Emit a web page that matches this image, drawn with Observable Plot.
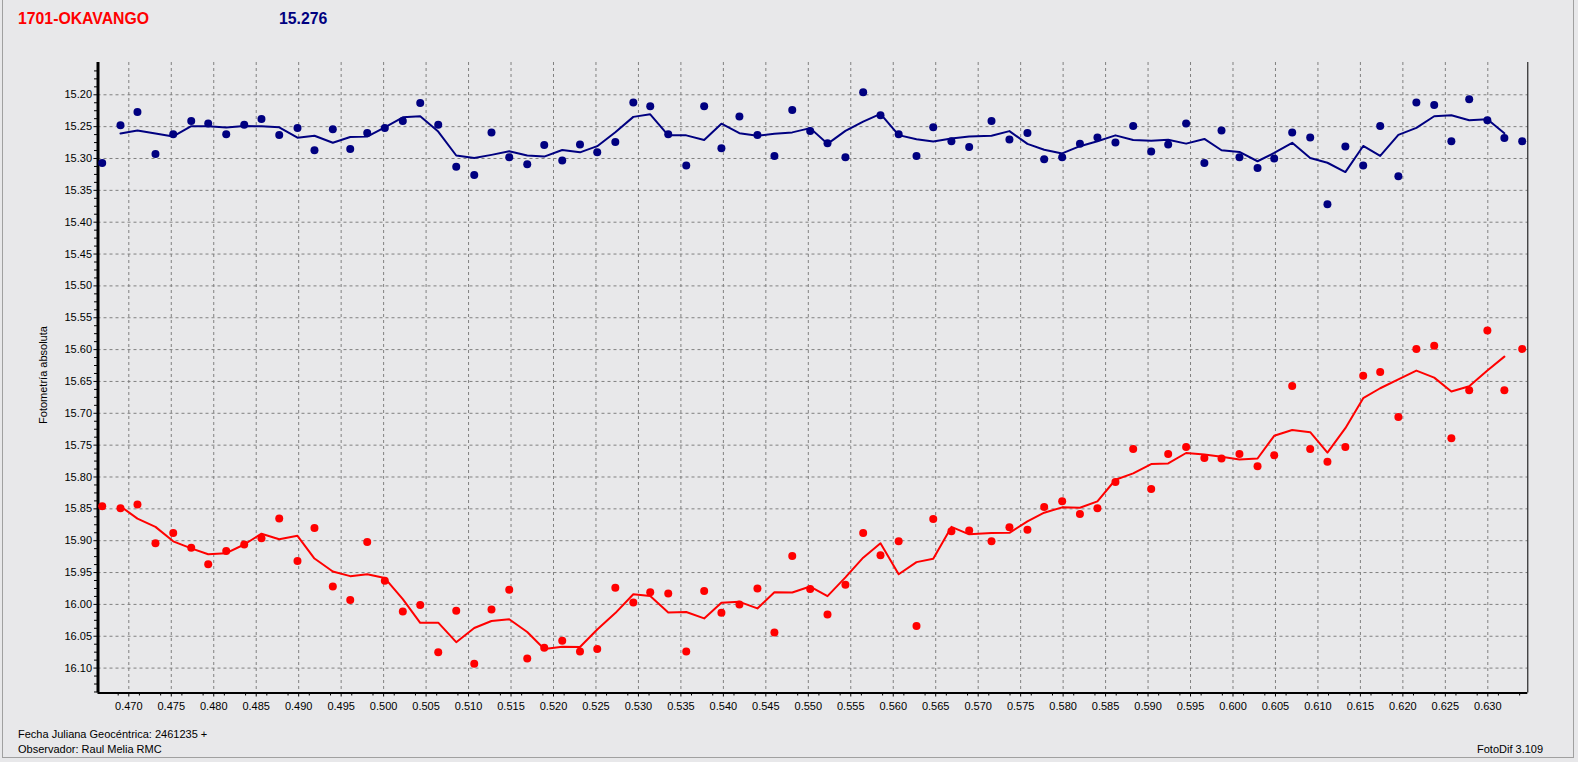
<!DOCTYPE html>
<html><head><meta charset="utf-8">
<script src="https://cdn.jsdelivr.net/npm/d3@7"></script>
<script src="https://cdn.jsdelivr.net/npm/@observablehq/plot@0.6"></script>
<style>
html,body{margin:0;padding:0;background:#e8e8ea;}
body{width:1578px;height:762px;position:relative;overflow:hidden;font-family:"Liberation Sans",Arial,sans-serif;}
#chart{position:absolute;left:0;top:0;}
.t{position:absolute;white-space:nowrap;line-height:1;}
#border{position:absolute;left:2px;top:-1px;width:1572px;height:759px;border:1px solid #a0a0a0;box-sizing:border-box;}
</style></head><body>
<div id="border"></div>
<div id="chart"></div>
<div class="t" style="left:18px;top:11px;font-weight:bold;font-size:15.8px;color:#ff0000">1701-OKAVANGO</div>
<div class="t" style="left:279px;top:11px;font-weight:bold;font-size:15.8px;color:#000080">15.276</div>
<div class="t" style="left:43px;top:375px;font-size:11px;color:#000;transform:translate(0,-50%) rotate(-90deg);transform-origin:0 50%;"><span style="display:inline-block;transform:translateX(-50%)">Fotometría absoluta</span></div>
<div class="t" style="left:18px;top:729px;font-size:11px;color:#000">Fecha Juliana Geocéntrica: 2461235 +</div>
<div class="t" style="left:18px;top:744px;font-size:11px;color:#000">Observador: Raul Melia RMC</div>
<div class="t" style="left:1477px;top:744px;font-size:11px;color:#000">FotoDif 3.109</div>
<script>
// Time (fraction of JD 2461235)
const times = [0.46687,0.46902,0.47102,0.47314,0.47523,0.47735,0.47935,0.48147,0.48359,0.48562,
0.48771,0.48986,0.49186,0.49402,0.49607,0.49807,0.50014,0.50226,0.50431,0.50643,
0.50855,0.51067,0.51270,0.51479,0.51691,0.51891,0.52103,0.52312,0.52515,0.52728,
0.52940,0.53139,0.53351,0.53563,0.53774,0.53977,0.54189,0.54401,0.54601,0.54811,
0.55022,0.55226,0.55437,0.55646,0.55850,0.56064,0.56274,0.56471,0.56685,0.56894,
0.57157,0.57368,0.57580,0.57777,0.57989,0.58198,0.58404,0.58616,0.58825,0.59037,
0.59237,0.59448,0.59663,0.59865,0.60076,0.60289,0.60485,0.60697,0.60909,0.61112,
0.61323,0.61533,0.61733,0.61947,0.62159,0.62369,0.62571,0.62781,0.62995,0.63195,0.63405];
// Comparison star (blue)
const compMag = [15.307,15.248,15.227,15.293,15.262,15.241,15.245,15.262,15.247,15.238,
15.263,15.252,15.287,15.254,15.285,15.260,15.252,15.241,15.213,15.247,
15.313,15.326,15.259,15.298,15.309,15.279,15.303,15.278,15.290,15.274,
15.212,15.218,15.262,15.311,15.218,15.284,15.234,15.263,15.296,15.224,
15.257,15.276,15.298,15.196,15.232,15.262,15.296,15.251,15.273,15.282,
15.241,15.270,15.260,15.301,15.298,15.277,15.267,15.275,15.249,15.289,
15.278,15.245,15.307,15.256,15.298,15.315,15.300,15.259,15.267,15.372,
15.281,15.311,15.249,15.328,15.212,15.216,15.273,15.207,15.240,15.268,15.273];
// Target 1701-Okavango (red)
const varMag = [15.846,15.849,15.843,15.904,15.888,15.911,15.937,15.916,15.906,15.896,
15.865,15.932,15.880,15.972,15.993,15.902,15.963,16.011,16.001,16.075,
16.010,16.093,16.008,15.977,16.085,16.068,16.057,16.074,16.070,15.974,
15.997,15.981,15.983,16.074,15.979,16.013,16.000,15.975,16.044,15.924,
15.976,16.016,15.969,15.888,15.923,15.901,16.034,15.866,15.885,15.884,
15.901,15.879,15.883,15.847,15.838,15.858,15.849,15.808,15.756,15.819,
15.764,15.753,15.770,15.771,15.764,15.783,15.766,15.657,15.756,15.776,
15.753,15.641,15.635,15.706,15.599,15.594,15.739,15.664,15.570,15.664,15.599];
const xTicks = [0.470,0.475,0.480,0.485,0.490,0.495,0.500,0.505,0.510,0.515,0.520,0.525,0.530,0.535,0.540,0.545,0.550,0.555,0.560,0.565,0.570,0.575,0.580,0.585,0.590,0.595,0.600,0.605,0.610,0.615,0.620,0.625,0.630];
const yTicks = [15.20,15.25,15.30,15.35,15.40,15.45,15.50,15.55,15.60,15.65,15.70,15.75,15.80,15.85,15.90,15.95,16.00,16.05,16.10];
const xDomain = [0.466374, 0.634709];
const yDomain = [15.1493, 16.1391];

// minor ticks: 3 between each pair of major ticks (axis decoration, not data)
const xMinorTicks = d3.range(-4, 136).map(i => 0.465 + i * 0.00125)
  .filter(v => v > xDomain[0] && v < xDomain[1] && Math.round(v * 8000) % 4 !== 0);
const yMinorTicks = d3.range(-8, 80).map(i => 15.15 + i * 0.0125)
  .filter(v => v > yDomain[0] && v < yDomain[1] && Math.round(v * 80) % 4 !== 0);
const xMinorLen = 0.0047;    // y units (~3px below the x axis line)
const yMinorLen = 0.00041;   // x units (~3.5px left of the y axis line)

const data = times.map((t, i) => ({t, comp: compMag[i], vari: varMag[i]}));
const mean3 = v => (v.length < 3 || v.some(x => x == null || isNaN(x))) ? NaN : d3.mean(v);

const chart = Plot.plot({
  width: 1578, height: 762,
  marginLeft: 97.5, marginRight: 50.7, marginTop: 62, marginBottom: 69.5,
  style: {background: "transparent", fontFamily: "'Liberation Sans', Arial, sans-serif", fontSize: "11px", color: "#000", overflow: "visible"},
  x: {domain: xDomain, ticks: xTicks, tickFormat: d3.format(".3f"), label: null, tickSize: 4, tickPadding: 5},
  y: {domain: yDomain, reverse: true, ticks: yTicks, tickFormat: d3.format(".2f"), label: null, tickSize: 4, tickPadding: 2},
  marks: [
    Plot.ruleX(xTicks, {stroke: "#808080", strokeOpacity: 1, strokeDasharray: "3,3"}),
    Plot.ruleY(yTicks, {stroke: "#808080", strokeOpacity: 1, strokeDasharray: "3,3"}),
    Plot.ruleX(xMinorTicks, {y1: yDomain[1], y2: yDomain[1] + xMinorLen, stroke: "#000", strokeOpacity: 1}),
    Plot.ruleY(yMinorTicks, {x1: xDomain[0], x2: xDomain[0] - yMinorLen, stroke: "#000", strokeOpacity: 1}),
    Plot.ruleX([xDomain[1]], {stroke: "#000", strokeWidth: 1}),
    Plot.ruleX([xDomain[0]], {stroke: "#000", strokeWidth: 3}),
    Plot.ruleY([yDomain[1]], {stroke: "#000", strokeWidth: 2}),
    Plot.lineY(data, Plot.windowY({k: 3, anchor: "middle", strict: true, reduce: mean3}, {x: "t", y: "comp", stroke: "#000080", strokeWidth: 2})),
    Plot.lineY(data, Plot.windowY({k: 3, anchor: "middle", strict: true, reduce: mean3}, {x: "t", y: "vari", stroke: "#ff0000", strokeWidth: 2})),
    Plot.dot(data, {x: "t", y: "comp", r: 4, fill: "#000080", stroke: "none"}),
    Plot.dot(data, {x: "t", y: "vari", r: 4, fill: "#ff0000", stroke: "none"})
  ]
});
document.getElementById("chart").appendChild(chart);
</script>
</body></html>
